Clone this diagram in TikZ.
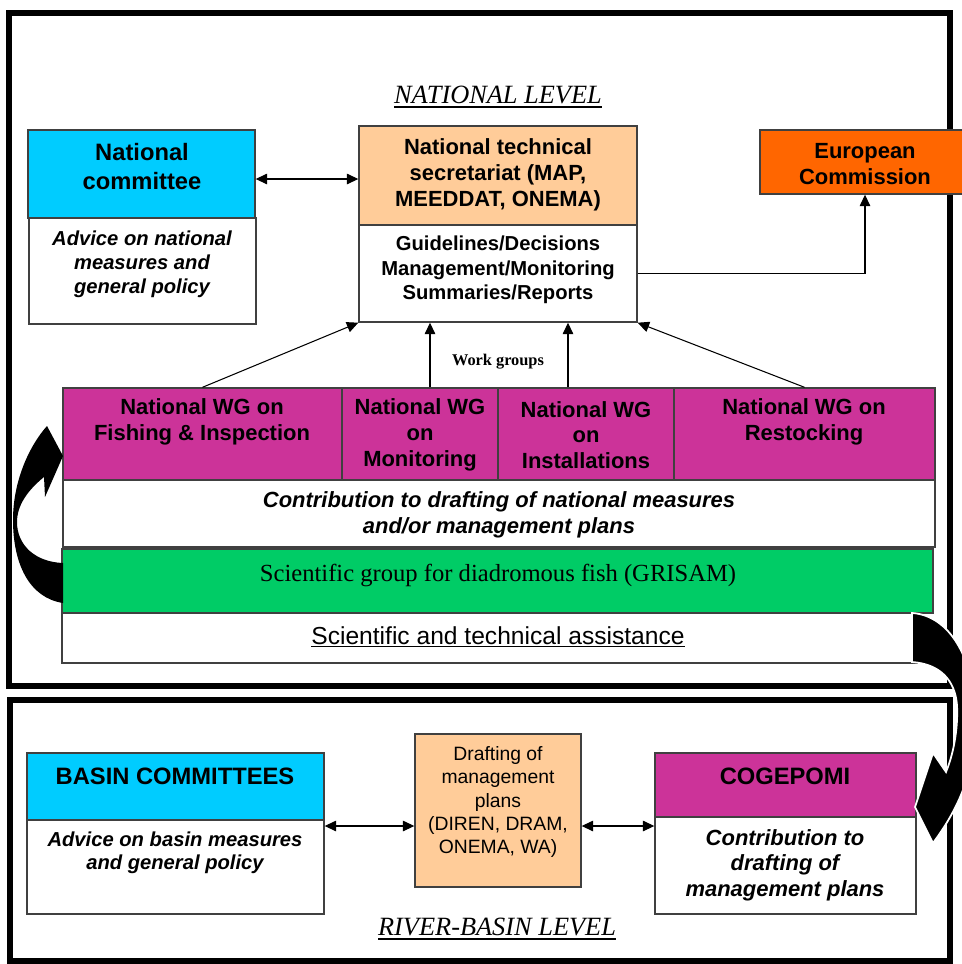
\documentclass[tikz,border=0pt]{standalone}
\usepackage{fontspec}
\setmainfont{Liberation Serif}
\setsansfont{Liberation Sans}
\usepackage{tikz}
\usetikzlibrary{arrows.meta,positioning,fit}

\definecolor{comcyan}{HTML}{00CCFF}
\definecolor{secpeach}{HTML}{FFCC99}
\definecolor{eurorange}{HTML}{FF6600}
\definecolor{wgmagenta}{HTML}{CC3399}
\definecolor{grigreen}{HTML}{00CC66}

% thick underline for the level titles
\newcommand{\lvlul}[1]{\setbox0=\hbox{#1}\rlap{\rule[-2.8pt]{\wd0}{1.3pt}}\box0}

\begin{document}
\begin{tikzpicture}[x=0.02cm, y=-0.02cm,
  box/.style={draw=black!75, line width=0.8pt, inner sep=0pt},
  frame/.style={draw=black, line width=3.4pt},
  link/.style={line width=0.6pt, -{Triangle[length=6.5pt,width=6pt]}},
  twoway/.style={line width=0.6pt, {Triangle[length=6.5pt,width=6pt]}-{Triangle[length=6.5pt,width=6pt]}},
  curl/.style={fill=black},
  lvl/.style={font=\fontsize{15}{18}\selectfont\itshape},
  title/.style={font=\fontsize{13.5}{16.5}\selectfont\sffamily\bfseries, align=center},
  head/.style={font=\fontsize{12.5}{14.7}\selectfont\sffamily\bfseries, align=center},
  note/.style={font=\fontsize{11.5}{13.6}\selectfont\sffamily\bfseries\itshape, align=center},
  task/.style={font=\fontsize{12.5}{14.5}\selectfont\sffamily\bfseries\itshape, align=center}
]
\useasboundingbox (0,0) rectangle (961,964);

% frames of the two levels
\draw[frame] (9,13) rectangle (950,686);
\draw[frame] (10,700) rectangle (950,961);

\node[lvl] (natlvl) at (498,97) {\lvlul{NATIONAL LEVEL}};
\node[lvl] (basinlvl) at (497,929) {\lvlul{RIVER-BASIN LEVEL}};

% national level
\node[box, fill=comcyan, fit={(28,130) (255,218)}] (natcomH) {};
\node[title] (natcomT) at (142,167) {National\\committee};
\node[box, fill=white, fit={(29,218) (256,324)}] (natcomB) {};
\node[note] (natcomN) at (142,264) {Advice on national\\measures and\\general policy};

\node[box, fill=secpeach, fit={(359,126) (637,225)}] (secH) {};
\node[head] (secT) at (498,175) {National technical\\secretariat (MAP,\\MEEDDAT, ONEMA)};
\node[box, fill=white, fit={(359,225) (637,322)}] (secB) {};
\node[font=\fontsize{11.5}{13.9}\selectfont\sffamily\bfseries, align=center] (secN) at (498,270) {Guidelines/Decisions\\Management/Monitoring\\Summaries/Reports};

\node[box, fill=eurorange, fit={(760,130) (970,194)}] (eu) {};
\node[head] (euT) at (865,164) {European\\Commission};

\draw[twoway] (natcomH.east |- 0,179) -- (secH.west |- 0,179);
\draw[link] (secB.east) -| (eu.south);

% work groups
\node[box, fill=wgmagenta, fit={(63,388) (342,480)}] (wgFish) {};
\node[box, fill=wgmagenta, fit={(342,388) (498,480)}] (wgMon) {};
\node[box, fill=wgmagenta, fit={(498,388) (674,480)}] (wgInst) {};
\node[box, fill=wgmagenta, fit={(674,388) (935,480)}] (wgRest) {};
\node[head] (wgFishT) at (202,422) {National WG on\\Fishing \& Inspection};
\node[head] (wgMonT) at (420,435) {National WG\\on\\Monitoring};
\node[head] (wgInstT) at (586,435) {National WG\\on\\Installations};
\node[head] (wgRestT) at (804,422) {National WG on\\Restocking};
\node[box, fill=white, fit={(63,480) (935,547)}] (wgB) {};
\node[task] (wgN) at (499,515) {Contribution to drafting of national measures\\and/or management plans};

\node[font=\fontsize{9.3}{11}\selectfont\bfseries] (wglabel) at (498,362) {Work groups};

\draw[link] (wgFish.north) -- (secB.south west);
\draw[link] (430,0 |- wgMon.north) -- (430,0 |- secB.south);
\draw[link] (568,0 |- wgInst.north) -- (568,0 |- secB.south);
\draw[link] (wgRest.north) -- (secB.south east);

\node[box, fill=grigreen, fit={(62,549) (933,613)}] (grisam) {};
\node[font=\fontsize{14}{17}\selectfont] (grisamT) at (498,575) {Scientific group for diadromous fish (GRISAM)};
\node[box, fill=white, fit={(62,613) (917,663)}] (assist) {};
\node[font=\fontsize{14}{17}\selectfont\sffamily] (assistT) at (498,637) {\underline{Scientific and technical assistance}};

% river-basin level
\node[box, fill=comcyan, fit={(27,753) (324,820)}] (basinH) {};
\node[title] (basinT) at (175,776) {BASIN COMMITTEES};
\node[box, fill=white, fit={(27,820) (324,914)}] (basinB) {};
\node[font=\fontsize{11.5}{13}\selectfont\sffamily\bfseries\itshape, align=center] (basinN) at (175,853) {Advice on basin measures\\and general policy};

\node[box, fill=secpeach, fit={(415,734) (581,887)}] (draft) {};
\node[font=\fontsize{11}{13.3}\selectfont\sffamily, align=center] (draftT) at (498,802) {Drafting of\\management\\plans\\(DIREN, DRAM,\\ONEMA, WA)};

\node[box, fill=wgmagenta, fit={(655,753) (916,817)}] (cogH) {};
\node[title] (cogT) at (785,776) {COGEPOMI};
\node[box, fill=white, fit={(655,817) (916,914)}] (cogB) {};
\node[task] (cogN) at (785,865) {Contribution to\\drafting of\\management plans};

\draw[twoway] (basinB.east |- 0,826) -- (draft.west |- 0,826);
\draw[twoway] (draft.east |- 0,826) -- (cogB.west |- 0,826);

% curved arrow GRISAM -> work groups
\fill[curl] (63,603) .. controls (30,598) and (13,565) .. (13,520)
  .. controls (13,480) and (30,445) .. (47,426) -- (63,456) -- (45,497) -- (44,477)
  .. controls (28,490) and (17,505) .. (17,522)
  .. controls (17,545) and (35,562) .. (63,563) -- cycle;

% curved arrow assistance -> COGEPOMI
\filldraw[curl, draw=white, line width=1pt] (912,613) .. controls (945,615) and (972,650) .. (975,710)
  .. controls (977,760) and (965,800) .. (933,843) -- (915,807) -- (933,753) -- (946,772)
  .. controls (955,750) and (958,725) .. (957,705)
  .. controls (955,680) and (940,664) .. (912,662) -- cycle;

\end{tikzpicture}
\end{document}
